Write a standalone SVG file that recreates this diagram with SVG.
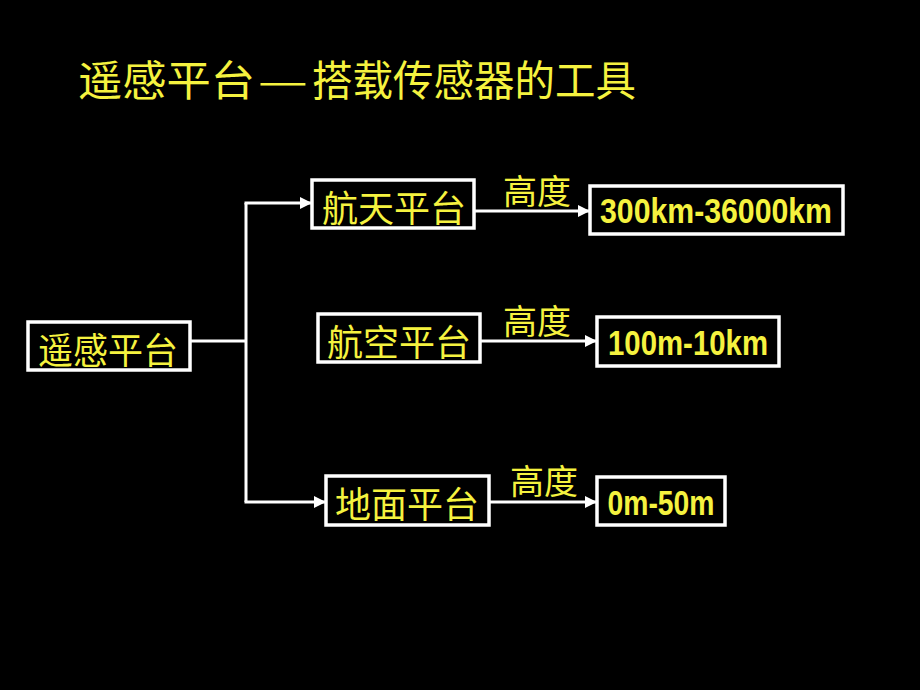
<svg xmlns="http://www.w3.org/2000/svg" width="920" height="690" viewBox="0 0 920 690">
<defs>
<marker id="ah" viewBox="0 0 10 10" refX="10" refY="5" markerWidth="13" markerHeight="12" markerUnits="userSpaceOnUse" orient="auto">
<path d="M0,0 L10,5 L0,10 z" fill="#ffffff"/>
</marker>
<style>
.box{fill:#000;stroke:#ffffff;stroke-width:3.5}
.cn{font-family:"Noto Sans CJK SC","Noto Sans CJK TC",sans-serif;fill:#F5F23F;dominant-baseline:central;text-anchor:middle}
.tt{font-family:"Noto Sans CJK SC","Noto Sans CJK TC",sans-serif;fill:#F5F23F;dominant-baseline:central;font-size:42px}
.num{font-family:"Liberation Sans",Arial,sans-serif;font-weight:bold;fill:#F5F23F;text-anchor:middle}
.ln{fill:none;stroke:#ffffff;stroke-width:3}
</style>
</defs>
<rect x="0" y="0" width="920" height="690" fill="#000"/>
<g id="title">
<text class="tt" x="78" y="77" textLength="177" lengthAdjust="spacingAndGlyphs">遥感平台</text>
<text class="tt" x="258" y="77" textLength="50" lengthAdjust="spacingAndGlyphs">—</text>
<text class="tt" x="312" y="77" textLength="324" lengthAdjust="spacingAndGlyphs">搭载传感器的工具</text>
</g>
<g id="connectors">
<line class="ln" x1="190" y1="341" x2="246" y2="341"/>
<line class="ln" x1="246" y1="203" x2="246" y2="502"/>
<line class="ln" x1="244.5" y1="203" x2="312" y2="203" marker-end="url(#ah)"/>
<line class="ln" x1="244.5" y1="502" x2="326" y2="502" marker-end="url(#ah)"/>
<line class="ln" x1="474" y1="211" x2="590" y2="211" marker-end="url(#ah)"/>
<line class="ln" x1="480" y1="341" x2="597" y2="341" marker-end="url(#ah)"/>
<line class="ln" x1="489" y1="502" x2="597" y2="502" marker-end="url(#ah)"/>
<text class="cn" x="537" y="189" font-size="34">高度</text>
<text class="cn" x="537" y="319" font-size="34">高度</text>
<text class="cn" x="544" y="479" font-size="34">高度</text>
</g>
<g id="root">
<rect class="box" x="28" y="322" width="162" height="48"/>
<text class="cn" x="108" y="348" font-size="36" textLength="140" lengthAdjust="spacingAndGlyphs">遥感平台</text>
</g>
<g id="space">
<rect class="box" x="312" y="180" width="162" height="48"/>
<text class="cn" x="394" y="206" font-size="36" textLength="144" lengthAdjust="spacingAndGlyphs">航天平台</text>
</g>
<g id="air">
<rect class="box" x="318" y="314" width="162" height="48"/>
<text class="cn" x="399" y="340" font-size="36" textLength="144" lengthAdjust="spacingAndGlyphs">航空平台</text>
</g>
<g id="ground">
<rect class="box" x="326" y="476" width="163" height="49"/>
<text class="cn" x="407" y="502" font-size="36" textLength="144" lengthAdjust="spacingAndGlyphs">地面平台</text>
</g>
<g id="h1">
<rect class="box" x="590" y="186" width="253" height="48"/>
<text class="num" x="716" y="223" font-size="35" textLength="232" lengthAdjust="spacingAndGlyphs">300km-36000km</text>
</g>
<g id="h2">
<rect class="box" x="597" y="317" width="182" height="49"/>
<text class="num" x="688" y="355" font-size="35" textLength="160" lengthAdjust="spacingAndGlyphs">100m-10km</text>
</g>
<g id="h3">
<rect class="box" x="597" y="477" width="128" height="48"/>
<text class="num" x="661" y="515" font-size="35" textLength="107" lengthAdjust="spacingAndGlyphs">0m-50m</text>
</g>
</svg>
